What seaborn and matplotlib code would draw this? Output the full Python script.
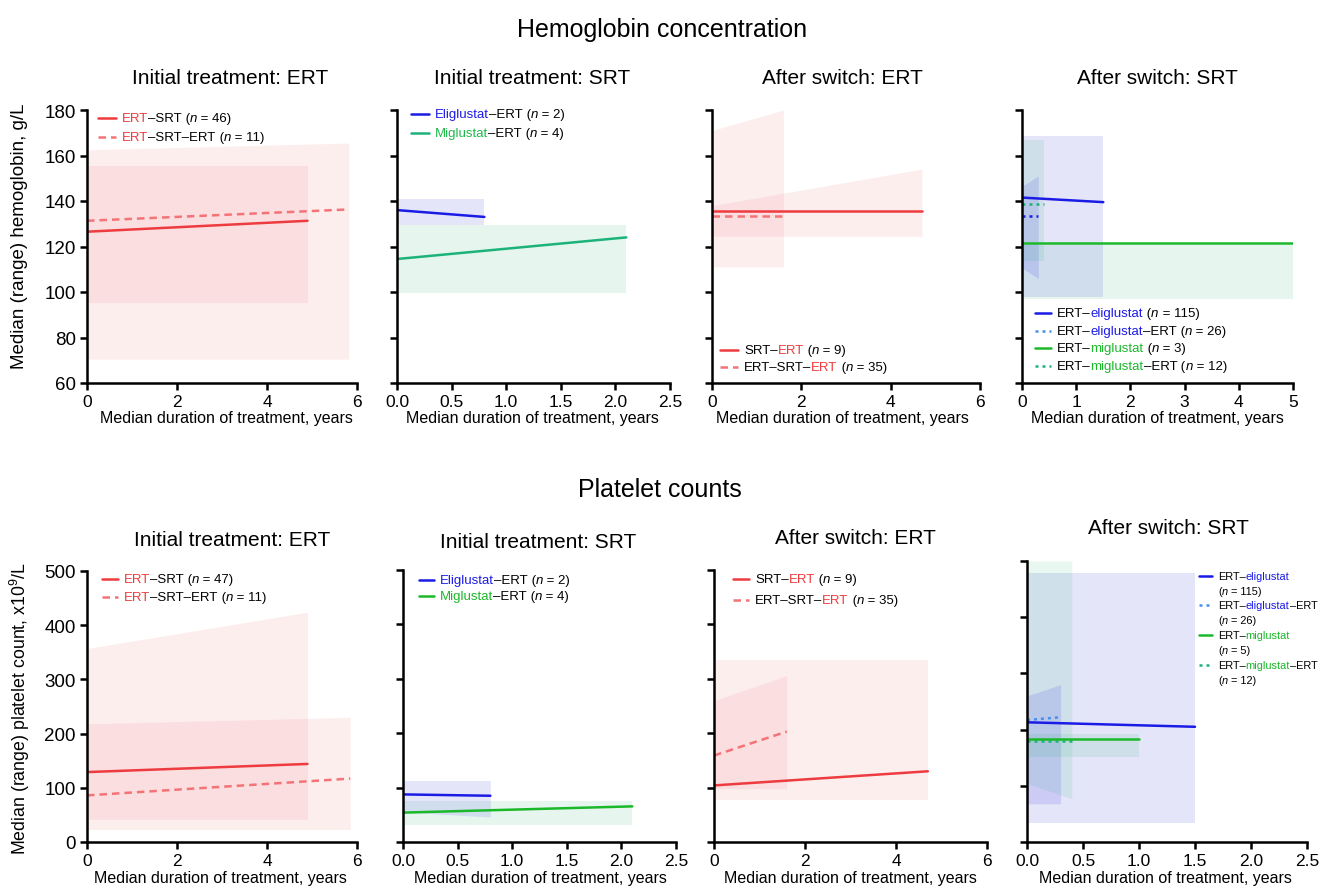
import matplotlib
matplotlib.use("Agg")
import matplotlib.pyplot as plt
import seaborn as sns
from matplotlib.lines import Line2D

sns.set_theme(style="ticks")
plt.rcParams['font.family'] = ['Liberation Sans', 'DejaVu Sans']
plt.rcParams['mathtext.fontset'] = 'custom'
plt.rcParams['mathtext.rm'] = 'Liberation Sans'
plt.rcParams['mathtext.it'] = 'Liberation Sans:italic'
plt.rcParams['text.color'] = 'black'
plt.rcParams['axes.labelcolor'] = 'black'
plt.rcParams['xtick.color'] = 'black'
plt.rcParams['ytick.color'] = 'black'

# ---------------- data: hemoglobin (g/L) ----------------
# each series: x (start, end), median (start, end), upper range, lower range
hb_ert_srt_x = [0, 4.9];      hb_ert_srt_med = [126.5, 131.3]; hb_ert_srt_hi = [155.5, 155.5]; hb_ert_srt_lo = [95, 95]
hb_ert_srt_ert_x = [0, 5.82]; hb_ert_srt_ert_med = [131.3, 136.3]; hb_ert_srt_ert_hi = [162.5, 165.5]; hb_ert_srt_ert_lo = [70.5, 70.5]

hb_eli_ert_x = [0, 0.8];      hb_eli_ert_med = [136, 133];   hb_eli_ert_hi = [141, 141];   hb_eli_ert_lo = [129.5, 129.5]
hb_mig_ert_x = [0, 2.1];      hb_mig_ert_med = [114.5, 124]; hb_mig_ert_hi = [129.5, 129.5]; hb_mig_ert_lo = [99.5, 99.5]

hb_srt_ert_x = [0, 4.7];      hb_srt_ert_med = [135.5, 135.5]; hb_srt_ert_hi = [138, 154]; hb_srt_ert_lo = [124.5, 124.5]
hb_ert_srt_ert2_x = [0, 1.6]; hb_ert_srt_ert2_med = [133.5, 133.5]; hb_ert_srt_ert2_hi = [171, 180]; hb_ert_srt_ert2_lo = [111, 111]

hb_ert_eli_x = [0, 1.5];      hb_ert_eli_med = [141.5, 139.5]; hb_ert_eli_hi = [168.5, 168.5]; hb_ert_eli_lo = [98, 98]
hb_ert_eli_ert_x = [0, 0.3];  hb_ert_eli_ert_med = [133.5, 133.5]; hb_ert_eli_ert_hi = [146.5, 151]; hb_ert_eli_ert_lo = [110.5, 106]
hb_ert_mig_x = [0, 5];        hb_ert_mig_med = [121.5, 121.5]; hb_ert_mig_hi = [120.5, 120.5]; hb_ert_mig_lo = [97, 97]
hb_ert_mig_ert_x = [0, 0.4];  hb_ert_mig_ert_med = [138.5, 138.5]; hb_ert_mig_ert_hi = [167, 167]; hb_ert_mig_ert_lo = [113.5, 113.5]

# ---------------- data: platelets (x10^9/L) ----------------
pl_ert_srt_x = [0, 4.9];      pl_ert_srt_med = [129, 144];   pl_ert_srt_hi = [357, 424];   pl_ert_srt_lo = [42, 42]
pl_ert_srt_ert_x = [0, 5.85]; pl_ert_srt_ert_med = [86, 117]; pl_ert_srt_ert_hi = [218, 230]; pl_ert_srt_ert_lo = [23, 23]

pl_eli_ert_x = [0, 0.8];      pl_eli_ert_med = [87.5, 85];   pl_eli_ert_hi = [113, 113];   pl_eli_ert_lo = [55, 46]
pl_mig_ert_x = [0, 2.1];      pl_mig_ert_med = [54, 65.5];   pl_mig_ert_hi = [76, 76];     pl_mig_ert_lo = [31, 31]

pl_srt_ert_x = [0, 4.7];      pl_srt_ert_med = [104, 130];   pl_srt_ert_hi = [335, 335];   pl_srt_ert_lo = [78, 78]
pl_ert_srt_ert2_x = [0, 1.6]; pl_ert_srt_ert2_med = [159, 203]; pl_ert_srt_ert2_hi = [260, 306]; pl_ert_srt_ert2_lo = [98, 98]

pl_ert_eli_x = [0, 1.5];      pl_ert_eli_med = [213, 205];   pl_ert_eli_hi = [479, 479];   pl_ert_eli_lo = [34, 34]
pl_ert_eli_ert_x = [0, 0.3];  pl_ert_eli_ert_med = [217, 222]; pl_ert_eli_ert_hi = [260, 280]; pl_ert_eli_ert_lo = [68, 68]
pl_ert_mig_x = [0, 1.0];      pl_ert_mig_med = [184, 184];   pl_ert_mig_hi = [192, 192];   pl_ert_mig_lo = [152, 152]
pl_ert_mig_ert_x = [0, 0.4];  pl_ert_mig_ert_med = [179, 179]; pl_ert_mig_ert_hi = [500, 500]; pl_ert_mig_ert_lo = [104, 77]

panel_titles = ["Initial treatment: ERT", "Initial treatment: SRT", "After switch: ERT", "After switch: SRT"]
row_titles = ["Hemoglobin concentration", "Platelet counts"]
x_label = "Median duration of treatment, years"
hb_ylabel = "Median (range) hemoglobin, g/L"
pl_ylabel = r"Median (range) platelet count, x10$^{9}$/L"

# ---------------- styles ----------------
RED = "#EE3B3F"; RED_L = "#F47377"
BLUE = "#1B1BE6"; BLUE_L = "#4A8FEA"
GREEN = "#20B84A"; GREEN2 = "#1BB82A"; TEAL = "#1DB27A"
BAND_RED = "#F0454A"; BAND_BLUE = "#3A3AE0"; BAND_GREEN = "#1EB46E"
LW = 1.8

W, H = 1320, 887
fig = plt.figure(figsize=(W / 100, H / 100), dpi=100)


def add_ax(x0, x1, y0, y1):
    return fig.add_axes([x0 / W, (H - y1) / H, (x1 - x0) / W, (y1 - y0) / H])


def series(ax, x, med, hi, lo, color, band, ls, alpha):
    ax.fill_between(x, lo, hi, color=band, alpha=alpha, lw=0)
    sns.lineplot(x=x, y=med, ax=ax, color=color, lw=LW, linestyle=ls, legend=False)


def style_ax(ax, xlim, xticks, xfmt, ylim, yticks, show_y):
    ax.set_xlim(*xlim)
    ax.set_ylim(*ylim)
    ax.set_xticks(xticks)
    ax.set_xticklabels([xfmt.format(t) for t in xticks])
    ax.set_yticks(yticks)
    if not show_y:
        ax.set_yticklabels([])
    for s in ["top", "right"]:
        ax.spines[s].set_visible(False)
    for s in ["left", "bottom"]:
        ax.spines[s].set_linewidth(1.8)
        ax.spines[s].set_color("black")
    ax.tick_params(axis="both", direction="out", length=5, width=1.8, colors="black", pad=3)
    ax.tick_params(axis="x", labelsize=12.5)
    ax.tick_params(axis="y", labelsize=13.5)
    ax.set_xlabel("")
    ax.set_ylabel("")


def legend_entry(ax, px, py, color, ls, segments, size=9.5, hlen=18):
    ln = Line2D([px / W, (px + hlen) / W], [(H - py) / H] * 2, transform=fig.transFigure,
                color=color, lw=LW, linestyle=ls)
    fig.add_artist(ln)
    prev = None
    for txt, col, st in segments:
        if prev is None:
            prev = fig.text((px + hlen + 6) / W, (H - py) / H, txt, color=col, style=st,
                            fontsize=size, va="center", ha="left")
        else:
            prev = ax.annotate(txt, xy=(1, 0), xycoords=prev, xytext=(0, 0), textcoords="offset points",
                               va="bottom", ha="left", color=col, style=st, fontsize=size,
                               annotation_clip=False)
    return prev


def nseg(n):
    return [(" (", "black", "normal"), ("n", "black", "italic"), (f" = {n})", "black", "normal")]


K = "black"
N = "normal"
dash = (0, (3, 2))
dot = (0, (1.2, 1.6))

# ================= Top row: hemoglobin =================
hb_ylim = (60, 180); hb_yt = list(range(60, 181, 20))
ax1 = add_ax(87, 357, 111, 384)
series(ax1, hb_ert_srt_ert_x, hb_ert_srt_ert_med, hb_ert_srt_ert_hi, hb_ert_srt_ert_lo, RED_L, BAND_RED, dash, 0.09)
series(ax1, hb_ert_srt_x, hb_ert_srt_med, hb_ert_srt_hi, hb_ert_srt_lo, RED, BAND_RED, "-", 0.09)
style_ax(ax1, (0, 6), [0, 2, 4, 6], "{:g}", hb_ylim, hb_yt, True)
legend_entry(ax1, 98, 119, RED, "-", [("ERT", RED, N), ("–SRT", K, N)] + nseg(46))
legend_entry(ax1, 98, 138, RED_L, dash, [("ERT", RED, N), ("–SRT–ERT", K, N)] + nseg(11))

ax2 = add_ax(397, 670, 111, 384)
series(ax2, hb_mig_ert_x, hb_mig_ert_med, hb_mig_ert_hi, hb_mig_ert_lo, TEAL, BAND_GREEN, "-", 0.11)
series(ax2, hb_eli_ert_x, hb_eli_ert_med, hb_eli_ert_hi, hb_eli_ert_lo, BLUE, BAND_BLUE, "-", 0.13)
style_ax(ax2, (0, 2.5), [0, 0.5, 1.0, 1.5, 2.0, 2.5], "{:.1f}", hb_ylim, hb_yt, False)
legend_entry(ax2, 411, 115, BLUE, "-", [("Eliglustat", BLUE, N), ("–ERT", K, N)] + nseg(2))
legend_entry(ax2, 411, 134, TEAL, "-", [("Miglustat", GREEN, N), ("–ERT", K, N)] + nseg(4))

ax3 = add_ax(712, 980, 111, 384)
series(ax3, hb_ert_srt_ert2_x, hb_ert_srt_ert2_med, hb_ert_srt_ert2_hi, hb_ert_srt_ert2_lo, RED_L, BAND_RED, dash, 0.09)
series(ax3, hb_srt_ert_x, hb_srt_ert_med, hb_srt_ert_hi, hb_srt_ert_lo, RED, BAND_RED, "-", 0.09)
style_ax(ax3, (0, 6), [0, 2, 4, 6], "{:g}", hb_ylim, hb_yt, False)
legend_entry(ax3, 720, 351, RED, "-", [("SRT–", K, N), ("ERT", RED, N)] + nseg(9))
legend_entry(ax3, 720, 368, RED_L, dash, [("ERT–SRT–", K, N), ("ERT", RED, N)] + nseg(35))

ax4 = add_ax(1022, 1293, 111, 384)
series(ax4, hb_ert_mig_x, hb_ert_mig_med, hb_ert_mig_hi, hb_ert_mig_lo, GREEN2, BAND_GREEN, "-", 0.11)
series(ax4, hb_ert_eli_x, hb_ert_eli_med, hb_ert_eli_hi, hb_ert_eli_lo, BLUE, BAND_BLUE, "-", 0.13)
series(ax4, hb_ert_mig_ert_x, hb_ert_mig_ert_med, hb_ert_mig_ert_hi, hb_ert_mig_ert_lo, TEAL, BAND_GREEN, dot, 0.11)
series(ax4, hb_ert_eli_ert_x, hb_ert_eli_ert_med, hb_ert_eli_ert_hi, hb_ert_eli_ert_lo, BLUE, BAND_BLUE, dot, 0.15)
style_ax(ax4, (0, 5), [0, 1, 2, 3, 4, 5], "{:g}", hb_ylim, hb_yt, False)
legend_entry(ax4, 1035, 314, BLUE, "-", [("ERT–", K, N), ("eliglustat", BLUE, N)] + nseg(115), hlen=16)
legend_entry(ax4, 1035, 332, BLUE_L, dot, [("ERT–", K, N), ("eliglustat", BLUE, N), ("–ERT", K, N)] + nseg(26), hlen=16)
legend_entry(ax4, 1035, 349, GREEN2, "-", [("ERT–", K, N), ("miglustat", GREEN2, N)] + nseg(3), hlen=16)
legend_entry(ax4, 1035, 367, TEAL, dot, [("ERT–", K, N), ("miglustat", GREEN2, N), ("–ERT", K, N)] + nseg(12), hlen=16)

# ================= Bottom row: platelets =================
pl_ylim = (0, 500); pl_yt = list(range(0, 501, 100))
ax5 = add_ax(87, 357, 572, 843)
series(ax5, pl_ert_srt_ert_x, pl_ert_srt_ert_med, pl_ert_srt_ert_hi, pl_ert_srt_ert_lo, RED_L, BAND_RED, dash, 0.09)
series(ax5, pl_ert_srt_x, pl_ert_srt_med, pl_ert_srt_hi, pl_ert_srt_lo, RED, BAND_RED, "-", 0.09)
style_ax(ax5, (0, 6), [0, 2, 4, 6], "{:g}", pl_ylim, pl_yt, True)
legend_entry(ax5, 102, 580, RED, "-", [("ERT", RED, N), ("–SRT", K, N)] + nseg(47), hlen=16)
legend_entry(ax5, 102, 598, RED_L, dash, [("ERT", RED, N), ("–SRT–ERT", K, N)] + nseg(11), hlen=16)

ax6 = add_ax(403, 676, 571, 843)
series(ax6, pl_mig_ert_x, pl_mig_ert_med, pl_mig_ert_hi, pl_mig_ert_lo, GREEN2, BAND_GREEN, "-", 0.11)
series(ax6, pl_eli_ert_x, pl_eli_ert_med, pl_eli_ert_hi, pl_eli_ert_lo, BLUE, BAND_BLUE, "-", 0.13)
style_ax(ax6, (0, 2.5), [0, 0.5, 1.0, 1.5, 2.0, 2.5], "{:.1f}", pl_ylim, pl_yt, False)
legend_entry(ax6, 419, 581, BLUE, "-", [("Eliglustat", BLUE, N), ("–ERT", K, N)] + nseg(2), hlen=15)
legend_entry(ax6, 419, 597, GREEN2, "-", [("Miglustat", GREEN2, N), ("–ERT", K, N)] + nseg(4), hlen=15)

ax7 = add_ax(714, 987, 571, 843)
series(ax7, pl_srt_ert_x, pl_srt_ert_med, pl_srt_ert_hi, pl_srt_ert_lo, RED, BAND_RED, "-", 0.09)
series(ax7, pl_ert_srt_ert2_x, pl_ert_srt_ert2_med, pl_ert_srt_ert2_hi, pl_ert_srt_ert2_lo, RED_L, BAND_RED, dash, 0.09)
style_ax(ax7, (0, 6), [0, 2, 4, 6], "{:g}", pl_ylim, pl_yt, False)
legend_entry(ax7, 733, 580, RED, "-", [("SRT–", K, N), ("ERT", RED, N)] + nseg(9), hlen=16)
legend_entry(ax7, 733, 601, RED_L, dash, [("ERT–SRT–", K, N), ("ERT", RED, N)] + nseg(35), hlen=16)

ax8 = add_ax(1027, 1307, 562, 843)
series(ax8, pl_ert_eli_x, pl_ert_eli_med, pl_ert_eli_hi, pl_ert_eli_lo, BLUE, BAND_BLUE, "-", 0.13)
series(ax8, pl_ert_mig_ert_x, pl_ert_mig_ert_med, pl_ert_mig_ert_hi, pl_ert_mig_ert_lo, TEAL, BAND_GREEN, dot, 0.10)
series(ax8, pl_ert_eli_ert_x, pl_ert_eli_ert_med, pl_ert_eli_ert_hi, pl_ert_eli_ert_lo, BLUE_L, BAND_BLUE, dot, 0.15)
series(ax8, pl_ert_mig_x, pl_ert_mig_med, pl_ert_mig_hi, pl_ert_mig_lo, GREEN2, BAND_GREEN, "-", 0.11)
style_ax(ax8, (0, 2.5), [0, 0.5, 1.0, 1.5, 2.0, 2.5], "{:.1f}", pl_ylim, pl_yt, False)
ent8 = [
    (577, BLUE, "-", [("ERT–", K, N), ("eliglustat", BLUE, N)], 115),
    (606, BLUE_L, dot, [("ERT–", K, N), ("eliglustat", BLUE, N), ("–ERT", K, N)], 26),
    (636, GREEN2, "-", [("ERT–", K, N), ("miglustat", GREEN2, N)], 5),
    (666, TEAL, dot, [("ERT–", K, N), ("miglustat", GREEN2, N), ("–ERT", K, N)], 12),
]
S8 = 7.9
for py, col, ls, segs, n in ent8:
    legend_entry(ax8, 1199, py, col, ls, segs, size=S8, hlen=13)
    t = fig.text(1218 / W, (H - py - 15) / H, "(", fontsize=S8, va="center", ha="left")
    t = ax8.annotate("n", xy=(1, 0), xycoords=t, va="bottom", ha="left", style="italic", fontsize=S8, annotation_clip=False)
    ax8.annotate(f" = {n})", xy=(1, 0), xycoords=t, va="bottom", ha="left", fontsize=S8, annotation_clip=False)

# ================= titles & labels =================
fig.text(662 / W, (H - 30) / H, row_titles[0], fontsize=18, ha="center", va="center")
fig.text(660 / W, (H - 490) / H, row_titles[1], fontsize=18, ha="center", va="center")
top_pos = [(230, 78), (532, 78), (842, 78), (1157, 78)]
bot_pos = [(232, 541), (538, 542), (855, 538), (1168, 529)]
for (cx, cy), t in zip(top_pos, panel_titles):
    fig.text(cx / W, (H - cy) / H, t, fontsize=15, ha="center", va="center")
for (cx, cy), t in zip(bot_pos, panel_titles):
    fig.text(cx / W, (H - cy) / H, t, fontsize=15, ha="center", va="center")

for cx in [226, 532, 842, 1157]:
    fig.text(cx / W, (H - 419) / H, x_label, fontsize=11.5, ha="center", va="center")
for cx in [220, 540, 850, 1165]:
    fig.text(cx / W, (H - 879) / H, x_label, fontsize=11.5, ha="center", va="center")

fig.text(20 / W, (H - 236) / H, hb_ylabel, fontsize=13.5, rotation=90, ha="center", va="center")
fig.text(20 / W, (H - 708) / H, pl_ylabel, fontsize=12.8, rotation=90, ha="center", va="center")

fig.savefig("out.png", dpi=100)
